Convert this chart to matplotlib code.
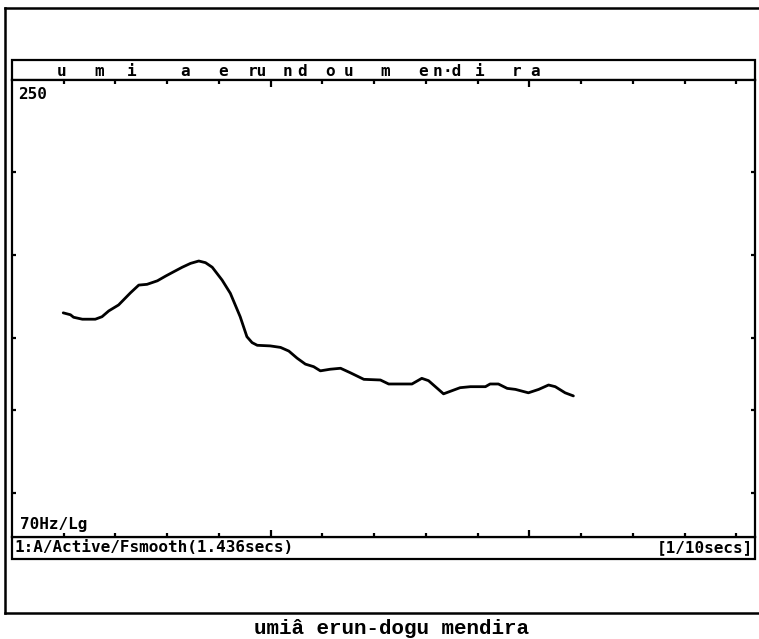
import numpy as np
import matplotlib
matplotlib.use("Agg")
import matplotlib.pyplot as plt
from matplotlib.patches import Rectangle
from matplotlib.lines import Line2D

# --- PITCH TRACK (seconds, Hz) ---
TIME_S = [0.099, 0.113, 0.119, 0.136, 0.161, 0.174, 0.187, 0.206, 0.229, 0.245,
          0.261, 0.281, 0.297, 0.313, 0.329, 0.345, 0.361, 0.374, 0.387, 0.406,
          0.422, 0.441, 0.454, 0.464, 0.474, 0.499, 0.519, 0.535, 0.551, 0.567,
          0.583, 0.596, 0.615, 0.635, 0.654, 0.680, 0.712, 0.728, 0.773, 0.792,
          0.805, 0.834, 0.866, 0.886, 0.915, 0.924, 0.940, 0.957, 0.973, 0.998,
          1.018, 1.037, 1.050, 1.069, 1.085]
F0_HZ = [130.7, 130.0, 129.1, 128.4, 128.4, 129.3, 131.4, 133.6, 138.2, 141.2,
         141.5, 142.9, 144.8, 146.6, 148.4, 150.0, 151.0, 150.3, 148.4, 143.2,
         138.0, 129.3, 122.3, 120.3, 119.4, 119.2, 118.7, 117.5, 115.2, 113.3,
         112.5, 111.2, 111.7, 112.0, 110.6, 108.6, 108.4, 107.2, 107.2, 108.9,
         108.2, 104.3, 106.1, 106.4, 106.4, 107.2, 107.2, 105.9, 105.6, 104.6,
         105.6, 106.9, 106.4, 104.6, 103.7]

# segment labels along the top strip (label, time in s)
SEG_LABELS = ["u", "m", "i", "a", "e", "ru", "n", "d", "o", "u",
              "m", "e", "n", "·d", "i", "r", "a"]
SEG_TIMES = [0.096, 0.169, 0.231, 0.335, 0.408, 0.474, 0.532, 0.561, 0.615, 0.650,
             0.722, 0.795, 0.822, 0.851, 0.903, 0.976, 1.011]

DURATION = 1.436
F_MIN, F_MAX = 70, 250
Y_TICKS_HZ = [79.2, 99.7, 121.9, 153.5, 193.5]

CAPTION = "umiâ erun-dogu mendira"

W, H = 759, 639
MONO = {"family": "DejaVu Sans Mono", "weight": "bold", "size": 11.5}

fig = plt.figure(figsize=(W / 100, H / 100), dpi=100)
fig.patch.set_facecolor("white")


def fx(px):
    return px / W


def fy(py):
    return 1 - py / H


# --- MAIN PITCH AXES ---
ax = fig.add_axes([fx(12), fy(537), fx(755) - fx(12), fy(80) - fy(537)])
ax.plot(TIME_S, F0_HZ, color="black", lw=2.0, solid_capstyle="round")
ax.set_yscale("log")
ax.set_xlim(0, DURATION)
ax.set_ylim(F_MIN, F_MAX)
ax.minorticks_off()

# 1/10 s ticks, the half-second ones drawn longer
xt = np.arange(1, 15) / 10
long_ticks = [t for t in xt if abs(t * 10 % 5) < 1e-6]
short_ticks = [t for t in xt if abs(t * 10 % 5) > 1e-6]
ax.set_xticks(short_ticks)
ax.set_xticks(long_ticks, minor=True)
ax.set_yticks(Y_TICKS_HZ)
ax.tick_params(which="both", direction="in", top=True, bottom=True,
               left=True, right=True, labelbottom=False, labelleft=False,
               width=1.6, color="black")
ax.tick_params(which="major", length=3)
ax.tick_params(which="minor", length=5)
for s in ax.spines.values():
    s.set_linewidth(1.6)

ax.text(0.008, 0.985, "250", transform=ax.transAxes, ha="left", va="top", **MONO)
ax.text(0.011, 0.012, "70Hz/Lg", transform=ax.transAxes, ha="left", va="bottom", **MONO)

# --- FRAME, LABEL STRIP AND STATUS BAR ---
ov = fig.add_axes([0, 0, 1, 1], zorder=-1)
ov.set_xlim(0, W)
ov.set_ylim(H, 0)
ov.axis("off")

ov.add_line(Line2D([5, 5], [8, 613], color="black", lw=1.8))
ov.add_line(Line2D([5, W], [8, 8], color="black", lw=1.8))
ov.add_line(Line2D([5, W], [613, 613], color="black", lw=1.8))
ov.add_patch(Rectangle((12, 60), 743, 20, fill=False, ec="black", lw=1.6))
ov.add_patch(Rectangle((12, 537), 743, 22, fill=False, ec="black", lw=1.6))

strip = fig.add_axes([fx(12), fy(80), fx(755) - fx(12), fy(60) - fy(80)])
strip.set_xlim(0, DURATION)
strip.set_ylim(0, 1)
strip.axis("off")
for lab, t in zip(SEG_LABELS, SEG_TIMES):
    strip.text(t, 0.45, lab, ha="center", va="center", **MONO)

ov.text(15, 548, "1:A/Active/Fsmooth(1.436secs)", ha="left", va="center", **MONO)
ov.text(753, 548, "[1/10secs]", ha="right", va="center", **MONO)

ov.text(391, 628, CAPTION, ha="center", va="center",
        family="Liberation Mono", weight="bold", size=15)

fig.savefig("out.png", dpi=100)
